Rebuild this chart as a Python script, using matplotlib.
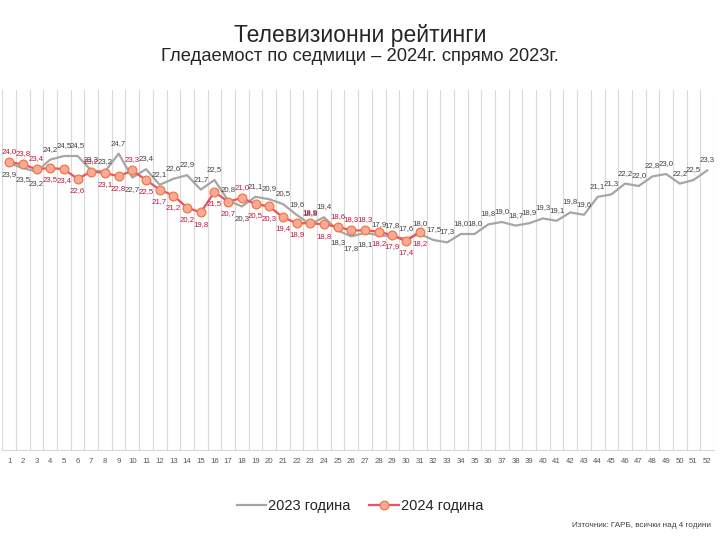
import matplotlib
matplotlib.use('Agg')
import matplotlib.pyplot as plt
import numpy as np

plt.rcParams['font.family'] = ['Liberation Sans', 'DejaVu Sans']

# Weekly viewership, weeks 1..52
weeks = list(range(1, 53))
ratings_2023 = [23.9, 23.5, 23.2, 24.2, 24.5, 24.5, 23.3, 23.2, 24.7, 22.7,
                23.4, 22.1, 22.6, 22.9, 21.7, 22.5, 20.8, 20.3, 21.1, 20.9,
                20.5, 19.6, 18.8, 19.4, 18.3, 17.8, 18.1, 17.9, 17.8, 17.6,
                18.0, 17.5, 17.3, 18.0, 18.0, 18.8, 19.0, 18.7, 18.9, 19.3,
                19.1, 19.8, 19.6, 21.1, 21.3, 22.2, 22.0, 22.8, 23.0, 22.2,
                22.5, 23.3]
ratings_2024 = [24.0, 23.8, 23.4, 23.5, 23.4, 22.6, 23.2, 23.1, 22.8, 23.3,
                22.5, 21.7, 21.2, 20.2, 19.8, 21.5, 20.7, 21.0, 20.5, 20.3,
                19.4, 18.9, 18.9, 18.8, 18.6, 18.3, 18.3, 18.2, 17.9, 17.4,
                18.2]

series_labels = ['2023 година', '2024 година']
title = 'Телевизионни рейтинги'
subtitle = 'Гледаемост по седмици – 2024г. спрямо 2023г.'
source = 'Източник: ГАРБ, всички над 4 години'

# weeks where the 2024 label sits above the point (the rest go below)
RED_ABOVE = {1, 2, 3, 7, 10, 18, 23, 25, 26, 27}
# weeks where the 2023 label goes below
GRAY_BELOW = {1, 2, 3, 10, 18, 25, 26, 27}

GRAY = '#a6a6a6'
RED = '#ee5067'
RED_TXT = '#c0143c'
MARK_FACE = '#f7a99c'
MARK_EDGE = '#f07a3a'


def fmt(v):
    return f"{v:.1f}".replace('.', ',')


def add_labels(ax, xs, ys, above_fn, color):
    for x, y in zip(xs, ys):
        if above_fn(x):
            ax.annotate(fmt(y), (x, y), xytext=(0, 5), textcoords='offset points',
                        ha='center', va='bottom', fontsize=5.6, color=color)
        else:
            ax.annotate(fmt(y), (x, y), xytext=(0, -6), textcoords='offset points',
                        ha='center', va='top', fontsize=5.6, color=color)


def main():
    fig = plt.figure(figsize=(7.2, 5.4), dpi=100)
    ax = fig.add_axes([0.0032, 0.1667, 0.9885, 0.6666])

    ax.plot(weeks, ratings_2023, color=GRAY, lw=1.6, label=series_labels[0], zorder=2)
    w24 = weeks[:len(ratings_2024)]
    ax.plot(w24, ratings_2024, color=RED, lw=1.6, marker='o', ms=6.3,
            mfc=MARK_FACE, mec=MARK_EDGE, mew=0.9, label=series_labels[1], zorder=3)

    add_labels(ax, weeks, ratings_2023, lambda w: w not in GRAY_BELOW, '#404040')
    add_labels(ax, w24, ratings_2024, lambda w: w in RED_ABOVE, RED_TXT)

    ax.set_xlim(0.5, 52.5)
    ax.set_ylim(0, 30)
    ax.set_xticks(weeks)
    ax.set_xticklabels([str(w) for w in weeks], fontsize=5.6, color='#595959')
    ax.set_xticks(np.arange(0.5, 53, 1), minor=True)
    ax.tick_params(axis='x', which='major', length=0, pad=6)
    ax.tick_params(axis='x', which='minor', length=0)
    ax.set_yticks([])
    ax.grid(axis='x', which='minor', color='#d9d9d9', lw=0.8)
    for side in ['top', 'left', 'right']:
        ax.spines[side].set_visible(False)
    ax.spines['bottom'].set_color('#d9d9d9')

    fig.text(0.5, 0.935, title, ha='center', va='center', fontsize=16.5, color='#262626')
    fig.text(0.5, 0.896, subtitle, ha='center', va='center', fontsize=13.2, color='#262626')

    fig.legend(loc='center', bbox_to_anchor=(0.5, 0.063), ncol=2, frameon=False,
               fontsize=10.5, handlelength=2.0, columnspacing=1.3, handletextpad=0.15,
               labelcolor='#262626')
    fig.text(0.987, 0.027, source, ha='right', va='center', fontsize=5.9, color='#404040')

    fig.savefig('out.png', dpi=100)
    plt.close(fig)


if __name__ == "__main__":
    main()
